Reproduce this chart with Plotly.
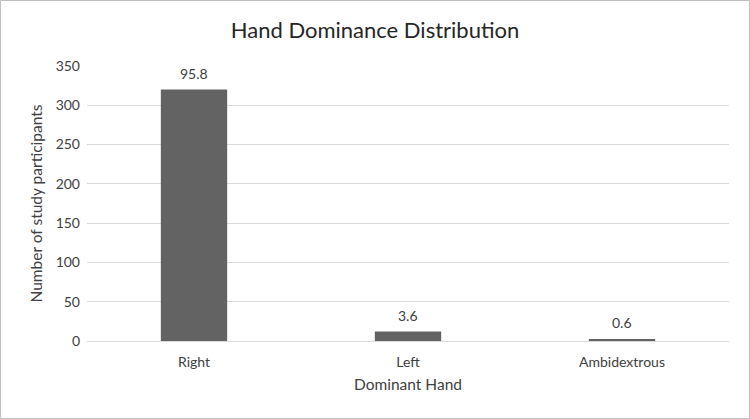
import plotly.graph_objects as go

categories = ["Right", "Left", "Ambidextrous"]
counts = [320, 12, 2]
percent_labels = ["95.8", "3.6", "0.6"]
y_ticks = [0, 50, 100, 150, 200, 250, 300, 350]

W, H = 750, 419
L, R, T, B = 87, 21, 66, 78
pw, ph = W - L - R, H - T - B

font_family = "Lato, 'Open Sans', sans-serif"
txt = "#404040"

fig = go.Figure()
fig.add_trace(go.Bar(x=categories, y=counts, marker=dict(color="#636363", line=dict(width=0)),
                     width=0.31, hoverinfo="skip"))

for c, v, lab in zip(categories, counts, percent_labels):
    fig.add_annotation(x=c, y=v, text=lab, showarrow=False, yanchor="bottom", yshift=6,
                       font=dict(size=14, color=txt, family=font_family))

# outer border
fig.add_shape(type="rect", xref="paper", yref="paper",
              x0=(0.5 - L) / pw, x1=(W - 0.5 - L) / pw,
              y0=-(H - 0.5 - T - ph) / ph, y1=1 + (T - 0.5) / ph,
              line=dict(color="#bfbfbf", width=1), layer="below")

fig.update_layout(
    width=W, height=H,
    margin=dict(l=L, r=R, t=T, b=B),
    paper_bgcolor="white", plot_bgcolor="white",
    font=dict(family=font_family, color=txt, size=14),
    title=dict(text="Hand Dominance Distribution", x=0.5, xanchor="center",
               y=1 - 30 / H, yanchor="middle", font=dict(size=22, color="#262626")),
    showlegend=False,
    xaxis=dict(title=dict(text="Dominant Hand", font=dict(size=15.5), standoff=10),
               showgrid=False, showline=True, linecolor="#d9d9d9", linewidth=1,
               ticks="", tickfont=dict(size=14), ticklabelstandoff=8, fixedrange=True),
    yaxis=dict(title=dict(text="Number of study participants", font=dict(size=15.5), standoff=9),
               range=[0, 350], tickvals=y_ticks, showgrid=True, gridcolor="#d9d9d9",
               gridwidth=1, zeroline=False, showline=False, ticks="",
               tickfont=dict(size=14), ticklabelstandoff=6, fixedrange=True),
)

fig.write_html("out.html")
